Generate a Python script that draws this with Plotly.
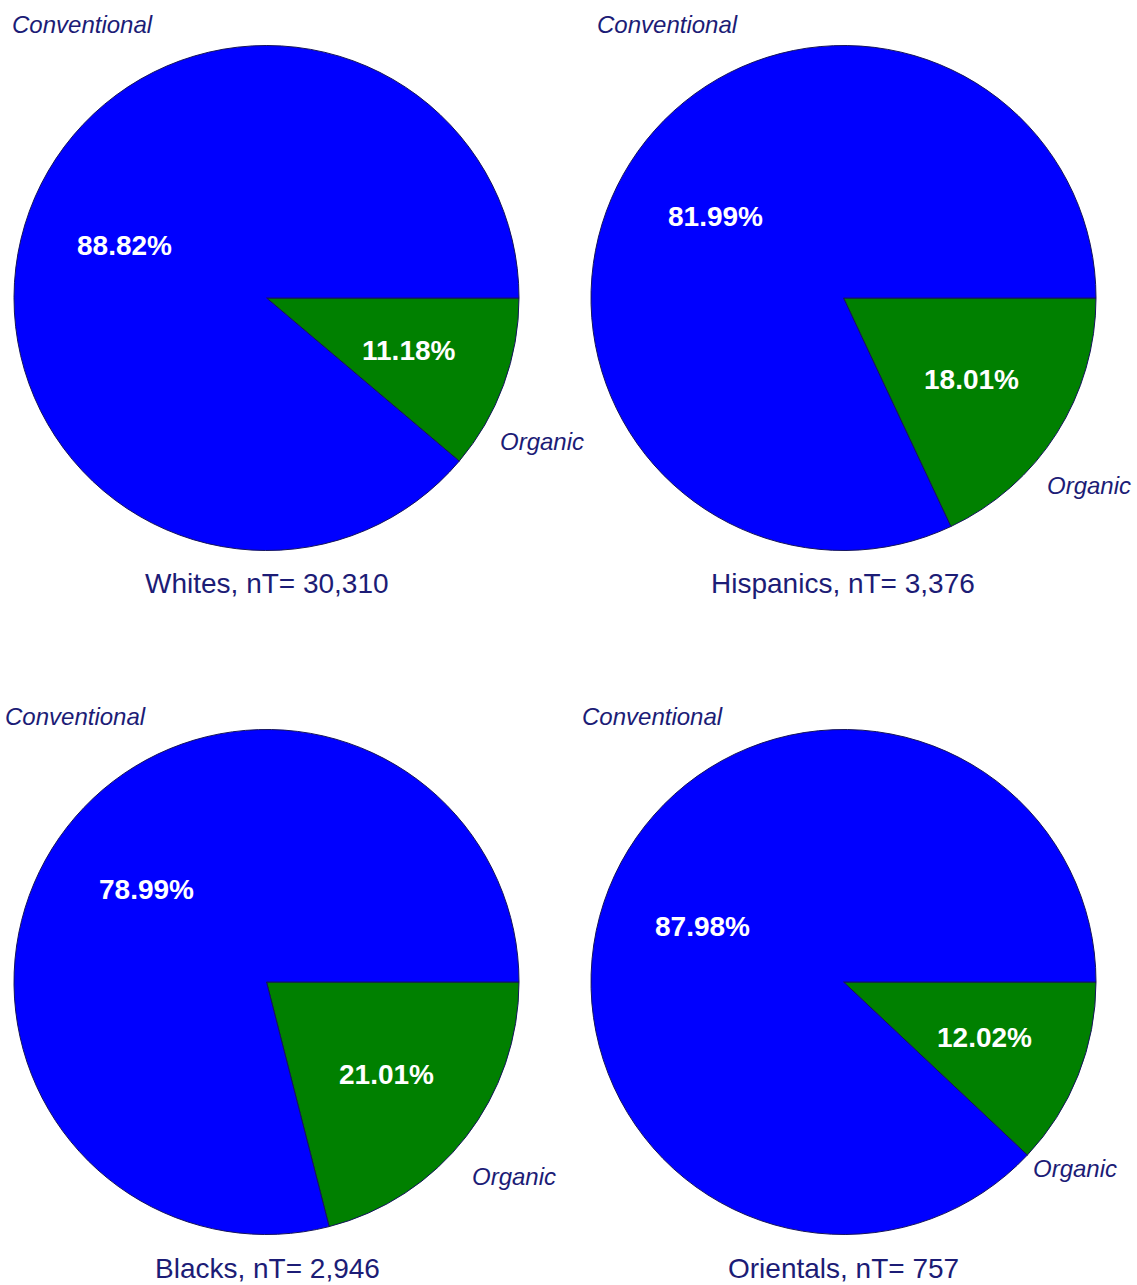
import math
import plotly.graph_objects as go

# ---- data ----
groups = ["Whites", "Hispanics", "Blacks", "Orientals"]
group_n = ["30,310", "3,376", "2,946", "757"]
categories = ["Organic", "Conventional"]
organic_pct = [11.18, 18.01, 21.01, 12.02]
conventional_pct = [88.82, 81.99, 78.99, 87.98]

# ---- layout (pixels) ----
W, H = 1137, 1285
R = 252.5
centers = [(266.5, 298), (843.5, 298), (266.5, 982), (843.5, 982)]
conv_label_pos = [(10, 24), (595, 24), (3, 716), (580, 716)]          # left edge, middle
org_label_pos = [(542, 441), (1089, 485), (514, 1176), (1075, 1168)]  # centre
title_pos = [(267, 584), (843, 584), (267, 1268), (843, 1268)]

BLUE = "#0000FF"
GREEN = "#008000"
NAVY = "#1c1c76"
FONT = "Liberation Sans, Arial, Helvetica, sans-serif"

def px(x):
    return x / W

def py(y):
    return 1 - y / H

fig = go.Figure()
annotations = []
for i, g in enumerate(groups):
    cx, cy = centers[i]
    vals = [organic_pct[i], conventional_pct[i]]
    fig.add_trace(go.Pie(
        labels=categories,
        values=vals,
        sort=False,
        direction="clockwise",
        rotation=90,
        marker=dict(colors=[GREEN, BLUE], line=dict(color="#14145a", width=1)),
        textinfo="none",
        hoverinfo="skip",
        showlegend=False,
        domain=dict(x=[px(cx - R), px(cx + R)], y=[py(cy + R), py(cy - R)]),
    ))
    # percentage labels at 0.6 radius along the slice mid-angle
    total = sum(vals)
    start = 90.0
    for v in vals:
        span = 360.0 * v / total
        mid = math.radians(start + span / 2)
        tx = cx + 0.6 * R * math.sin(mid)
        ty = cy - 0.6 * R * math.cos(mid)
        annotations.append(dict(
            x=px(tx), y=py(ty), xref="paper", yref="paper",
            text=f"{v:.2f}%", showarrow=False,
            xanchor="center", yanchor="middle",
            font=dict(family=FONT, size=28, color="white", weight="bold"),
        ))
        start += span
    # outside category labels
    lx, ly = conv_label_pos[i]
    annotations.append(dict(
        x=px(lx), y=py(ly), xref="paper", yref="paper",
        text=categories[1], showarrow=False, xanchor="left", yanchor="middle",
        font=dict(family=FONT, size=24, color=NAVY, style="italic"),
    ))
    ox, oy = org_label_pos[i]
    annotations.append(dict(
        x=px(ox), y=py(oy), xref="paper", yref="paper",
        text=categories[0], showarrow=False, xanchor="center", yanchor="middle",
        font=dict(family=FONT, size=24, color=NAVY, style="italic"),
    ))
    tx, ty = title_pos[i]
    annotations.append(dict(
        x=px(tx), y=py(ty), xref="paper", yref="paper",
        text=f"{g}, nT= {group_n[i]}", showarrow=False,
        xanchor="center", yanchor="middle",
        font=dict(family=FONT, size=28, color=NAVY),
    ))

fig.update_layout(
    width=W, height=H,
    margin=dict(l=0, r=0, t=0, b=0),
    paper_bgcolor="white", plot_bgcolor="white",
    annotations=annotations,
)
fig.write_html("out.html")
